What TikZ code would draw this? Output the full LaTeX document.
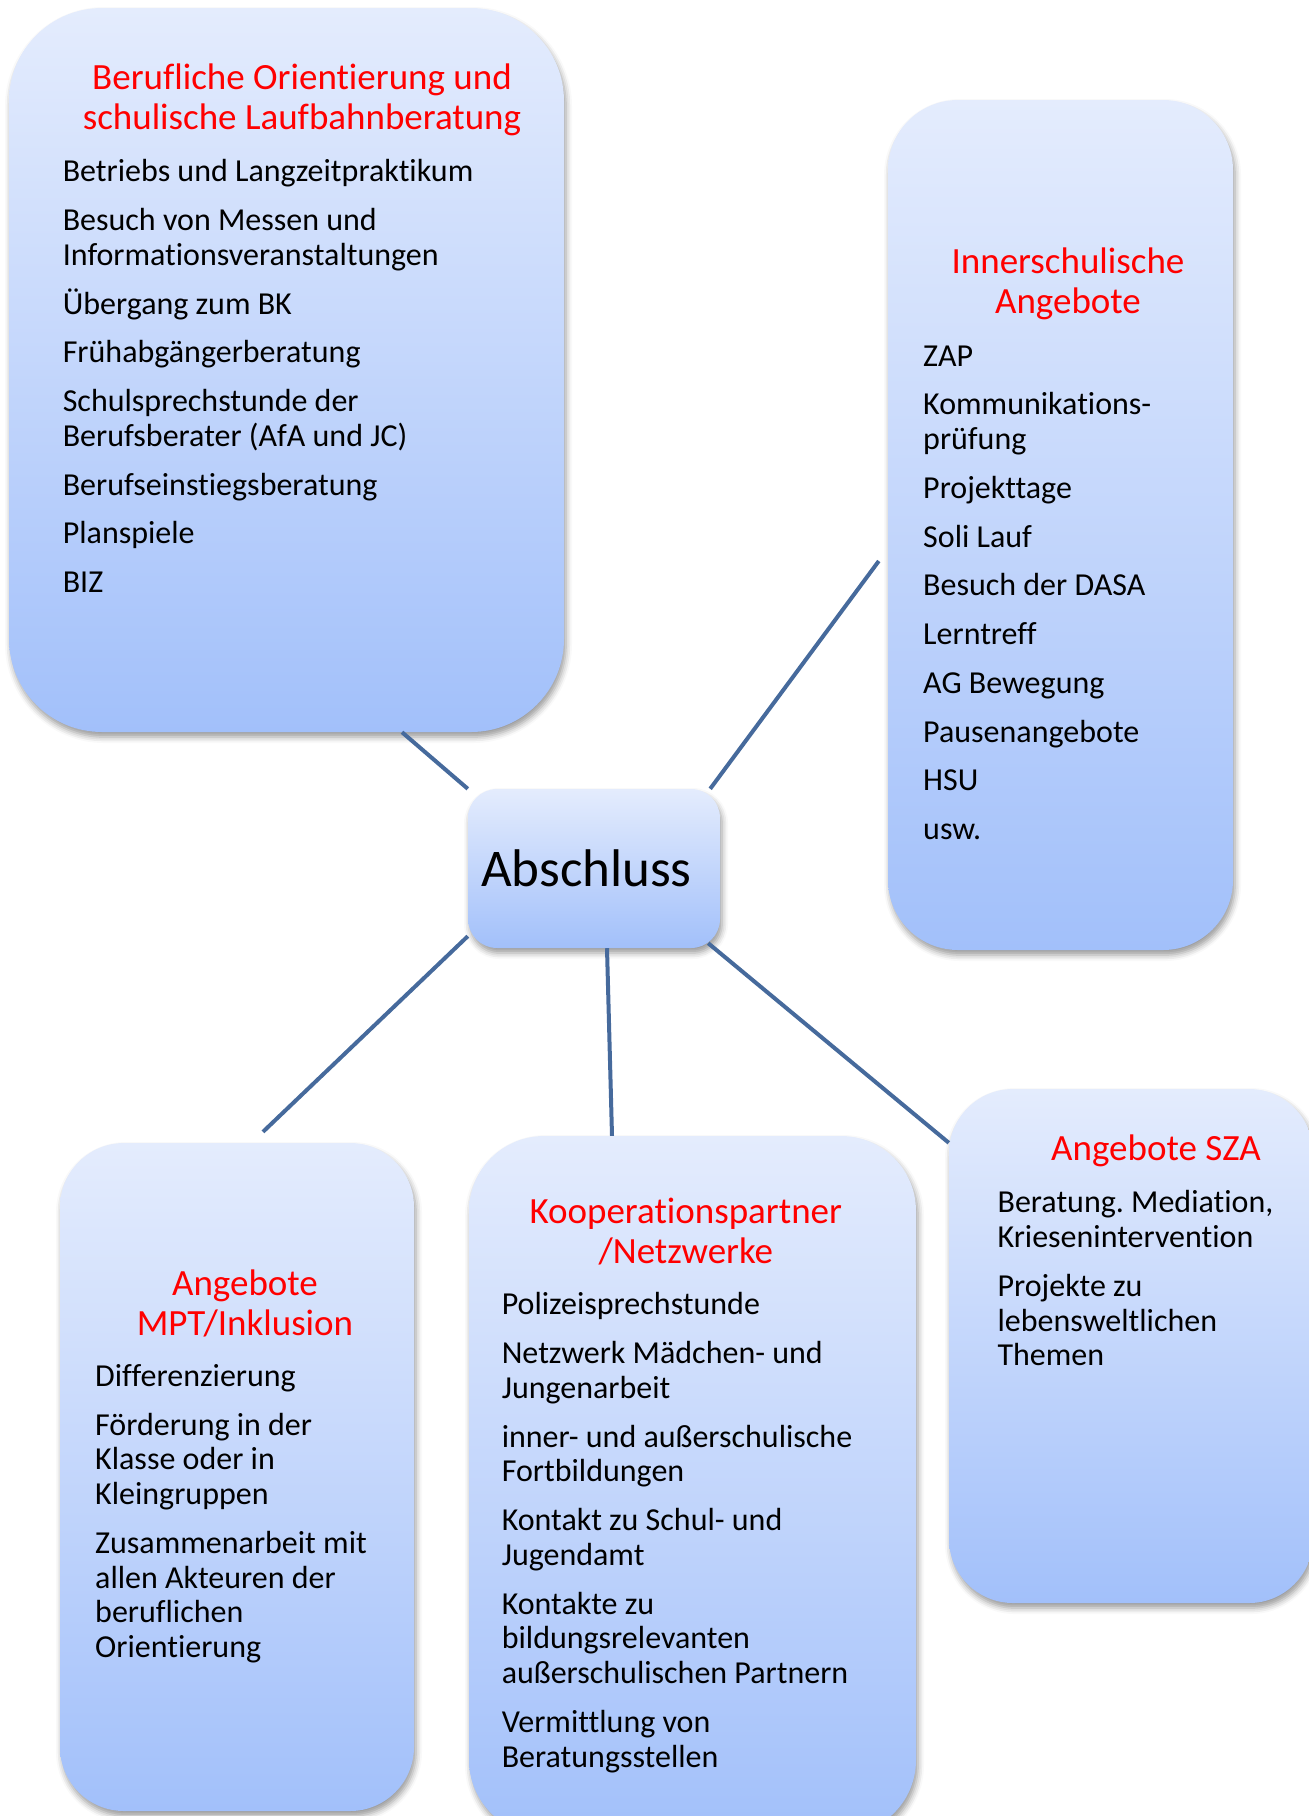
\documentclass[tikz,border=0pt]{standalone}
\usepackage{fontspec}
\setmainfont{Carlito}[Ligatures=NoCommon]
\frenchspacing
\usetikzlibrary{shadows.blur}
\definecolor{boxtop}{RGB}{228,236,253}
\definecolor{boxbot}{RGB}{162,192,250}
\definecolor{linkblue}{RGB}{70,106,156}
\begin{document}
\begin{tikzpicture}[
    x=1pt, y=-1pt,
    box/.style={rounded corners=#1, top color=boxtop, bottom color=boxbot, draw=none, inner sep=0pt,
      blur shadow={shadow xshift=2pt, shadow yshift=-5pt, shadow blur radius=6pt, shadow opacity=40}},
    head/.style={text=red, align=center, inner sep=0pt, font=\fontsize{37}{40.5}\selectfont},
    body/.style={anchor=north west, align=left, inner sep=0pt, font=\fontsize{32}{34.75}\selectfont},
    link/.style={draw=linkblue, line width=4pt}
  ]
    \useasboundingbox (0,0) rectangle (1309,1816);

    % Kaesten
    \node[box=93, minimum width=555pt, minimum height=724pt] (b1) at (286.5,370) {};
    \node[box=70, minimum width=345pt, minimum height=850pt] (b2) at (1060.5,525) {};
    \node[box=64, minimum width=354pt, minimum height=668pt] (b3) at (237,1477) {};
    \node[box=75, minimum width=447pt, minimum height=699pt] (b4) at (692.5,1485.5) {};
    \node[box=64, minimum width=364pt, minimum height=514pt] (b5) at (1131,1346) {};
    \node[box=29, minimum width=252pt, minimum height=159pt, text width=226pt, align=left,
      font=\fontsize{53}{60}\selectfont] (abschluss) at (594,868.5) {Abschluss};

    \node[head] (t1) at (302,99.9) {Berufliche Orientierung und\\schulische Laufbahnberatung};
    \node[body] (l1) at (62.6,159.4) {Betriebs und Langzeitpraktikum\\[14pt]
      Besuch von Messen und\\Informationsveranstaltungen\\[14pt]
      Übergang zum BK\\[14pt]
      Frühabgängerberatung\\[14pt]
      Schulsprechstunde der\\Berufsberater (AfA und JC)\\[14pt]
      Berufseinstiegsberatung\\[14pt]
      Planspiele\\[14pt]
      BIZ};

    \node[head] (t2) at (1068,284) {Innerschulische\\Angebote};
    \node[body] (l2) at (923,345.3) {ZAP\\[14pt]
      Kommunikations-\\prüfung\\[14pt]
      Projekttage\\[14pt]
      Soli Lauf\\[14pt]
      Besuch der DASA\\[14pt]
      Lerntreff\\[14pt]
      AG Bewegung\\[14pt]
      Pausenangebote\\[14pt]
      HSU\\[14pt]
      usw.};

    \node[head] (t3) at (245,1303.5) {Angebote\\MPT/Inklusion};
    \node[body] (l3) at (95,1364.2) {Differenzierung\\[14pt]
      Förderung in der\\Klasse oder in\\Kleingruppen\\[14pt]
      Zusammenarbeit mit\\allen Akteuren der\\beruflichen\\Orientierung};

    \node[head] (t4) at (685.8,1231.7) {Kooperationspartner\\/Netzwerke};
    \node[body] (l4) at (501.6,1292.4) {Polizeisprechstunde\\[14pt]
      Netzwerk Mädchen- und\\Jungenarbeit\\[14pt]
      inner- und außerschulische\\Fortbildungen\\[14pt]
      Kontakt zu Schul- und\\Jugendamt\\[14pt]
      Kontakte zu\\bildungsrelevanten\\außerschulischen Partnern\\[14pt]
      Vermittlung von\\Beratungsstellen};

    \node[head] (t5) at (1156,1150.6) {Angebote SZA};
    \node[body] (l5) at (997.4,1190.4) {Beratung. Mediation,\\Kriesenintervention\\[14pt]
      Projekte zu\\lebensweltlichen\\Themen};

    % Verbindungen
    \draw[link] (abschluss.north west) -- ([xshift=115.5pt]b1.south);
    \draw[link] ([xshift=-10pt]abschluss.north east) -- ([xshift=-9pt,yshift=-36pt]b2.west);
    \draw[link] ([yshift=12pt]abschluss.south west) -- ([xshift=26pt,yshift=11pt]b3.north);
    \draw[link] ([xshift=13pt]abschluss.south) -- ([xshift=-80.5pt]b4.north);
    \draw[link] ([xshift=-12pt,yshift=5pt]abschluss.south east) -- ([yshift=-54pt]b5.north west);
  \end{tikzpicture}
\end{document}
